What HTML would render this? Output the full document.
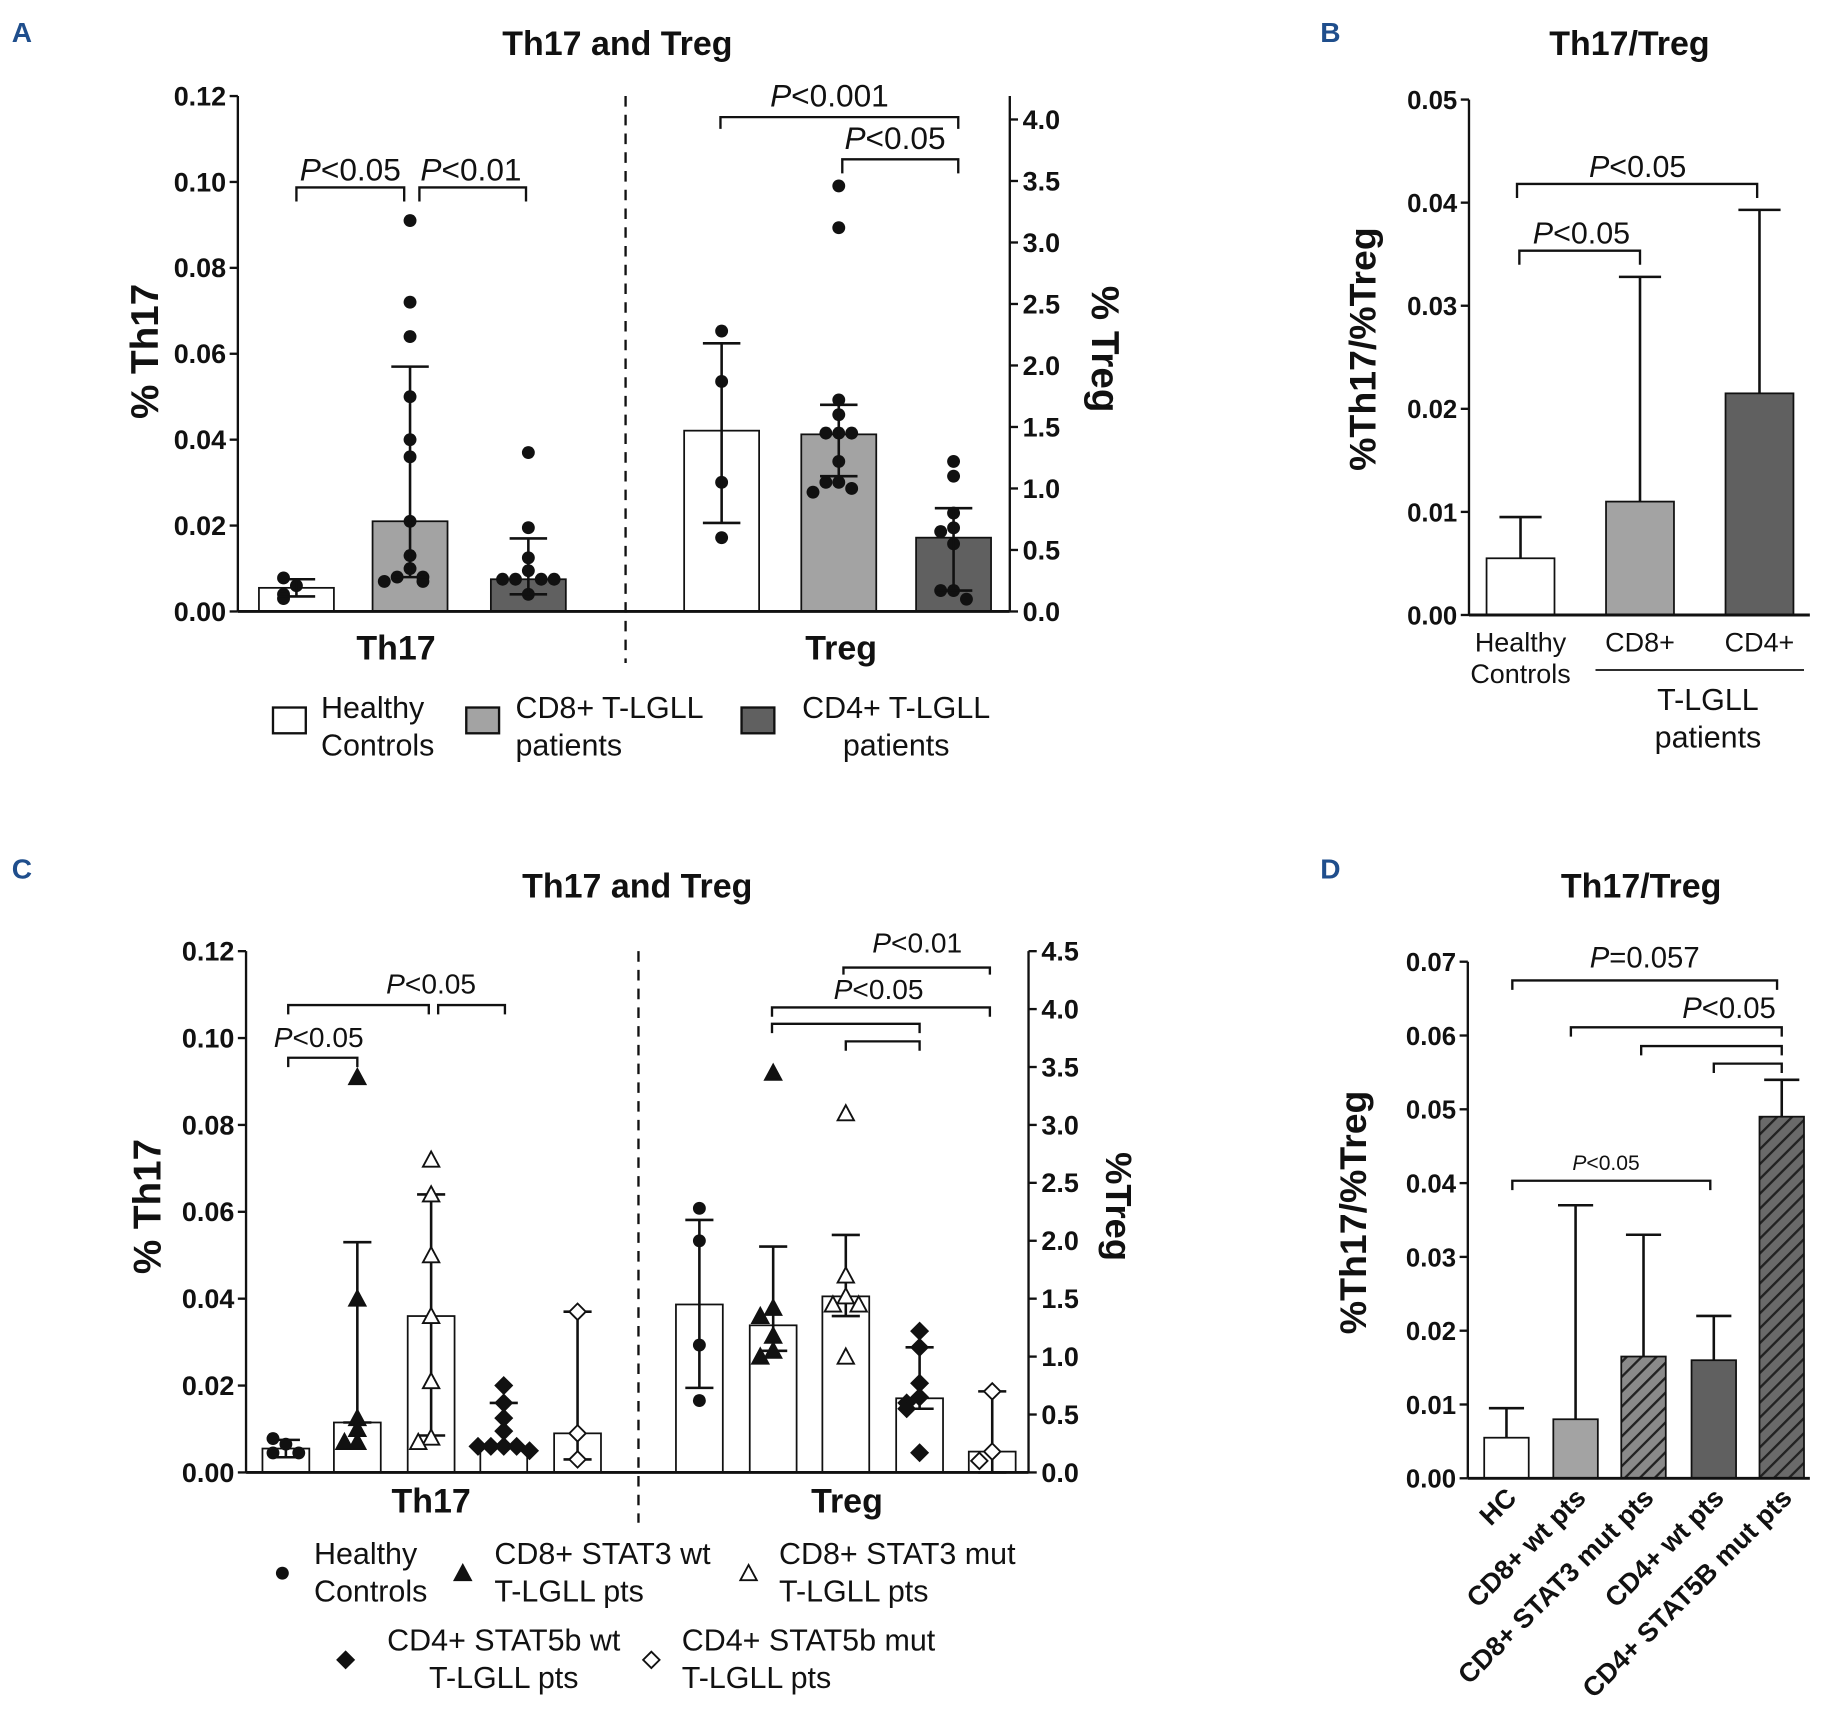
<!DOCTYPE html>
<html><head><meta charset="utf-8"><style>
html,body{margin:0;padding:0;background:#fff}
svg{display:block}
text{font-family:"Liberation Sans",Arial,sans-serif}
</style></head><body>
<svg id="fig" width="1831" height="1736" viewBox="0 0 1563 1482" xmlns="http://www.w3.org/2000/svg">
<defs>
<pattern id="hatchMid" patternUnits="userSpaceOnUse" width="9" height="9" patternTransform="rotate(45)"><rect width="9" height="9" fill="#8a8a8a"/><line x1="0" y1="0" x2="0" y2="9" stroke="#222" stroke-width="4"/></pattern>
<pattern id="hatchDark" patternUnits="userSpaceOnUse" width="9" height="9" patternTransform="rotate(45)"><rect width="9" height="9" fill="#6a6a6a"/><line x1="0" y1="0" x2="0" y2="9" stroke="#222" stroke-width="4"/></pattern>
</defs>
<g id="root"></g>
</svg>
<script>
// ---------- Panel A data ----------
const aGroups = ["Healthy Controls","CD8+ T-LGLL patients","CD4+ T-LGLL patients"];
const aTh17Means = [0.0055, 0.021, 0.0075];
const aTh17Lo = [0.0035, 0.008, 0.004];
const aTh17Hi = [0.0075, 0.057, 0.017];
const aTh17Pts0 = [0.006, 0.0078, 0.004, 0.003];
const aTh17Pts1 = [0.091, 0.072, 0.064, 0.050, 0.040, 0.036, 0.021, 0.013, 0.010, 0.008, 0.008, 0.007, 0.007];
const aTh17Pts2 = [0.037, 0.0195, 0.0125, 0.0095, 0.0075, 0.0075, 0.0075, 0.0075, 0.004];
const aTregMeans = [1.47, 1.44, 0.60];
const aTregLo = [0.72, 1.10, 0.17];
const aTregHi = [2.18, 1.68, 0.84];
const aTregPts0 = [2.28, 1.87, 1.05, 0.60];
const aTregPts1 = [3.46, 3.12, 1.72, 1.60, 1.45, 1.45, 1.45, 1.22, 1.05, 1.05, 1.00, 0.97];
const aTregPts2 = [1.22, 1.10, 0.80, 0.68, 0.65, 0.55, 0.17, 0.17, 0.10];
const aLeftTicks = ["0.00","0.02","0.04","0.06","0.08","0.10","0.12"];
const aRightTicks = ["0.0","0.5","1.0","1.5","2.0","2.5","3.0","3.5","4.0"];
// ---------- Panel B data ----------
const bCats = ["Healthy Controls","CD8+","CD4+"];
const bMeans = [0.0055, 0.011, 0.0215];
const bHi = [0.0095, 0.0328, 0.0393];
const bTicks = ["0.00","0.01","0.02","0.03","0.04","0.05"];
// ---------- Panel C data ----------
const cGroups = ["Healthy Controls","CD8+ STAT3 wt","CD8+ STAT3 mut","CD4+ STAT5b wt","CD4+ STAT5b mut"];
const cTh17Means = [0.0055, 0.0115, 0.036, 0.006, 0.009];
const cTh17Lo = [0.0035, 0.0115, 0.0085, 0.006, 0.003];
const cTh17Hi = [0.0075, 0.053, 0.064, 0.016, 0.037];
const cTh17P0 = [0.0065, 0.0078, 0.0045, 0.0045];
const cTh17P1 = [0.091, 0.040, 0.0125, 0.010, 0.007, 0.007];
const cTh17P2 = [0.072, 0.064, 0.050, 0.036, 0.021, 0.008, 0.007];
const cTh17P3 = [0.020, 0.016, 0.0125, 0.0095, 0.006, 0.006, 0.006, 0.006, 0.005];
const cTh17P4 = [0.037, 0.009, 0.003];
const cTregMeans = [1.45, 1.27, 1.52, 0.64, 0.18];
const cTregLo = [0.73, 1.05, 1.35, 0.55, 0.0];
const cTregHi = [2.18, 1.95, 2.05, 1.08, 0.70];
const cTregP0 = [2.28, 2.0, 1.1, 0.62];
const cTregP1 = [3.45, 1.42, 1.35, 1.18, 1.05, 1.0];
const cTregP2 = [3.10, 1.70, 1.52, 1.45, 1.45, 1.0];
const cTregP3 = [1.22, 1.08, 0.77, 0.65, 0.60, 0.55, 0.17];
const cTregP4 = [0.70, 0.18, 0.10];
const cLeftTicks = ["0.00","0.02","0.04","0.06","0.08","0.10","0.12"];
const cRightTicks = ["0.0","0.5","1.0","1.5","2.0","2.5","3.0","3.5","4.0","4.5"];
// ---------- Panel D data ----------
const dCats = ["HC","CD8+ wt pts","CD8+ STAT3 mut pts","CD4+ wt pts","CD4+ STAT5B mut pts"];
const dMeans = [0.0055, 0.008, 0.0165, 0.016, 0.049];
const dHi = [0.0095, 0.037, 0.033, 0.022, 0.054];
const dTicks = ["0.00","0.01","0.02","0.03","0.04","0.05","0.06","0.07"];

const NS="http://www.w3.org/2000/svg";
const root=document.getElementById('root');
function el(tag,attrs,parent,txt){const e=document.createElementNS(NS,tag);for(const k in attrs)e.setAttribute(k,attrs[k]);if(txt!==undefined)e.textContent=txt;(parent||root).appendChild(e);return e;}
function lin(d0,d1,r0,r1){return v=>r0+(v-d0)/(d1-d0)*(r1-r0);}
function line(x1,y1,x2,y2,w,p,dash){const l=el('line',{x1,y1,x2,y2,stroke:'#111','stroke-width':w||2},p);if(dash)l.setAttribute('stroke-dasharray',dash);return l;}
function txt(x,y,s,size,opts,p){const t=el('text',Object.assign({x,y,'font-size':size,fill:'#111'},opts||{}),p,s);return t;}
function pText(x,y,rest,size,p){const t=el('text',{x,y,'font-size':size,'text-anchor':'middle',fill:'#111'},p);el('tspan',{'font-style':'italic'},t,'P');el('tspan',{},t,rest);return t;}
function bracket(x1,x2,y,drop,p){const pa=el('path',{d:`M${x1},${y+drop}V${y}H${x2}V${y+drop}`,fill:'none',stroke:'#111','stroke-width':2},p);}
function yAxis(x,y0,y1,ticks,scale,vals,left,p,fs){line(x,y0,x,y1,2,p);ticks.forEach((t,i)=>{const y=scale(vals[i]);line(left?x-7:x,y,left?x:x+7,y,2,p);const tt=txt(left?x-10:x+11,y+8,t,fs||23,{'font-weight':'bold','text-anchor':left?'end':'start'},p);});}
function marker(type,x,y,p){let m;
 if(type==='dot')m=el('circle',{cx:x,cy:y,r:5.5,fill:'#111'},p);
 else if(type==='tri'||type==='otri')m=el('path',{d:`M${x},${y-7}L${x+7},${y+6}L${x-7},${y+6}Z`,fill:type==='tri'?'#111':'#fff',stroke:'#111','stroke-width':1.6},p);
 else m=el('path',{d:`M${x},${y-7}L${x+7},${y}L${x},${y+7}L${x-7},${y}Z`,fill:type==='dia'?'#111':'#fff',stroke:'#111','stroke-width':1.6},p);
 }
function points(vals,cx,scale,type,spread,p){
 const used=[];vals.forEach(v=>{const y=scale(v);let k=used.filter(u=>Math.abs(u-y)<9).length;used.push(y);const offs=[0,-spread,spread,-2*spread,2*spread,-3*spread,3*spread];marker(type,cx+offs[k%offs.length],y,p);});}
function bar(cx,w,v,scale,fill,p,name){const y0=scale(0),y=scale(v);const r=el('rect',{x:cx-w/2,y:Math.min(y,y0),width:w,height:Math.abs(y0-y),fill,stroke:'#111','stroke-width':1.5},p);return r;}
function err(cx,lo,hi,scale,cap,p){line(cx,scale(lo),cx,scale(hi),2.2,p);line(cx-cap,scale(hi),cx+cap,scale(hi),2.2,p);if(lo!==null)line(cx-cap,scale(lo),cx+cap,scale(lo),2.2,p);}

// ---------- Panel letters ----------
[["A",10,36],["B",1127,36],["C",10,750],["D",1127,750]].forEach(([s,x,y])=>{const t=txt(x,y,s,24,{'font-weight':'bold'});t.setAttribute('fill','#1f4e8c');});

// ---------- Panel A ----------
(function(){
 const g=el('g',{});
 const yL=lin(0,0.12,522,82), yR=lin(0,4.0,522,102);
 const fills=['#fff','#a3a3a3','#606060'];
 const th17X=[253,350,451], tregX=[616,716,814], W=64;
 const tt=txt(527,47,'Th17 and Treg',29,{'font-weight':'bold','text-anchor':'middle'},g);
 aTh17Means.forEach((v,i)=>bar(th17X[i],W,v,yL,fills[i],g,'bar-th17-'+i));
 aTregMeans.forEach((v,i)=>bar(tregX[i],W,v,yR,fills[i],g,'bar-treg-'+i));
 line(203,522,862,522,2.5,g);
 yAxis(203,522,82,aLeftTicks,yL,[0,0.02,0.04,0.06,0.08,0.10,0.12],true,g);
 yAxis(862,522,82,aRightTicks,yR,[0,0.5,1,1.5,2,2.5,3,3.5,4],false,g);
 line(534,82,534,566,2,g,'9,7');
 [aTh17Pts0,aTh17Pts1,aTh17Pts2].forEach((a,i)=>points(a,th17X[i],yL,'dot',11,g));
 [aTregPts0,aTregPts1,aTregPts2].forEach((a,i)=>points(a,tregX[i],yR,'dot',11,g));
 aTh17Means.forEach((v,i)=>err(th17X[i],aTh17Lo[i],aTh17Hi[i],yL,16,g));
 aTregMeans.forEach((v,i)=>err(tregX[i],aTregLo[i],aTregHi[i],yR,16,g));
 bracket(253,345,160,12,g);pText(299,154,'<0.05',27,g);
 bracket(358,449,160,12,g);pText(402,154,'<0.01',27,g);
 bracket(615,818,100,10,g);pText(708,91,'<0.001',27,g);
 bracket(719,818,136,12,g);pText(764,127,'<0.05',27,g);
 const yt=txt(0,0,'% Th17',33,{'font-weight':'bold','text-anchor':'middle',transform:'translate(135,300) rotate(-90)'},g);
 const yr=txt(0,0,'% Treg',33,{'font-weight':'bold','text-anchor':'middle',transform:'translate(932,298) rotate(90)'},g);
 txt(338,563,'Th17',29,{'font-weight':'bold','text-anchor':'middle'},g);
 txt(718,563,'Treg',29,{'font-weight':'bold','text-anchor':'middle'},g);
 const leg=[[233,fills[0],['Healthy','Controls'],274,'start'],[398,fills[1],['CD8+ T-LGLL','patients'],440,'start'],[633,fills[2],['CD4+ T-LGLL','patients'],765,'middle']];
 leg.forEach(([x,f,l,tx,an],i)=>{const lg=el('g',{},g);
  el('rect',{x,y:604,width:28,height:22,fill:f,stroke:'#111','stroke-width':2},lg);
  txt(tx,613,l[0],26,{'text-anchor':an},lg);txt(tx,645,l[1],26,{'text-anchor':an},lg);});
})();

// ---------- Panel B ----------
(function(){
 const g=el('g',{});
 const y=lin(0,0.05,525,85);const X=[1298,1400,1502],W=58;const fills=['#fff','#a3a3a3','#606060'];
 txt(1391,47,'Th17/Treg',29,{'font-weight':'bold','text-anchor':'middle'},g);
 bMeans.forEach((v,i)=>{err(X[i],null,bHi[i],y,18,g);bar(X[i],W,v,y,fills[i],g,'bar-'+i);});
 line(1254,525,1545,525,2.5,g);
 yAxis(1254,525,85,bTicks,y,[0,0.01,0.02,0.03,0.04,0.05],true,g,22);
 bracket(1295,1500,157,12,g);pText(1398,151,'<0.05',26,g);
 bracket(1297,1400,214,12,g);pText(1350,208,'<0.05',26,g);
 txt(0,0,'%Th17/%Treg',32,{'font-weight':'bold','text-anchor':'middle',transform:'translate(1174,298) rotate(-90)'},g);
 txt(1298,556,'Healthy',23,{'text-anchor':'middle'},g);txt(1298,583,'Controls',23,{'text-anchor':'middle'},g);
 txt(1400,556,'CD8+',23,{'text-anchor':'middle'},g);txt(1502,556,'CD4+',23,{'text-anchor':'middle'},g);
 line(1362,572,1540,572,1.5,g);
 txt(1458,606,'T-LGLL',26,{'text-anchor':'middle'},g);txt(1458,638,'patients',26,{'text-anchor':'middle'},g);
})();

// ---------- Panel C ----------
(function(){
 const g=el('g',{});
 const yL=lin(0,0.12,1257,812), yR=lin(0,4.5,1257,812);
 const th17X=[244,305,368,430,493], tregX=[597,660,722,785,847], W=40;
 const types=['dot','tri','otri','dia','odia'];
 txt(544,766,'Th17 and Treg',29,{'font-weight':'bold','text-anchor':'middle'},g);
 cTh17Means.forEach((v,i)=>bar(th17X[i],W,v,yL,'#fff',g,'bar-th17-'+i));
 cTregMeans.forEach((v,i)=>bar(tregX[i],W,v,yR,'#fff',g,'bar-treg-'+i));
 line(210,1257,878,1257,2.5,g);
 yAxis(210,1257,812,cLeftTicks,yL,[0,0.02,0.04,0.06,0.08,0.10,0.12],true,g);
 yAxis(878,1257,812,cRightTicks,yR,[0,0.5,1,1.5,2,2.5,3,3.5,4,4.5],false,g);
 line(545,812,545,1300,2,g,'9,7');
 cTh17Means.forEach((v,i)=>err(th17X[i],cTh17Lo[i],cTh17Hi[i],yL,12,g));
 cTregMeans.forEach((v,i)=>err(tregX[i],cTregLo[i],cTregHi[i],yR,12,g));
 [cTh17P0,cTh17P1,cTh17P2,cTh17P3,cTh17P4].forEach((a,i)=>points(a,th17X[i],yL,types[i],11,g));
 [cTregP0,cTregP1,cTregP2,cTregP3,cTregP4].forEach((a,i)=>points(a,tregX[i],yR,types[i],11,g));
 bracket(246,305,903,8,g);pText(272,894,'<0.05',24,g);
 bracket(246,366,858,8,g);bracket(374,431,858,8,g);pText(368,848,'<0.05',24,g);
 bracket(659,785,874,8,g);bracket(722,785,889,8,g);
 bracket(659,845,860,8,g);pText(750,853,'<0.05',24,g);
 bracket(720,845,826,6,g);pText(783,813,'<0.01',24,g);
 txt(0,0,'% Th17',33,{'font-weight':'bold','text-anchor':'middle',transform:'translate(137,1030) rotate(-90)'},g);
 txt(0,0,'%Treg',31,{'font-weight':'bold','text-anchor':'middle',transform:'translate(944,1030) rotate(90)'},g);
 txt(368,1291,'Th17',29,{'font-weight':'bold','text-anchor':'middle'},g);
 txt(723,1291,'Treg',29,{'font-weight':'bold','text-anchor':'middle'},g);
 const leg=[[241,1343,'dot',['Healthy','Controls'],268,'start'],[395,1343,'tri',['CD8+ STAT3 wt','T-LGLL pts'],422,'start'],[639,1343,'otri',['CD8+ STAT3 mut','T-LGLL pts'],665,'start'],[295,1417,'dia',['CD4+ STAT5b wt','T-LGLL pts'],430,'middle'],[556,1417,'odia',['CD4+ STAT5b mut','T-LGLL pts'],582,'start']];
 leg.forEach(([mx,my,t,l,tx,an],i)=>{const lg=el('g',{},g);
  marker(t,mx,my,lg);txt(tx,my-8,l[0],26,{'text-anchor':an},lg);txt(tx,my+24,l[1],26,{'text-anchor':an},lg);});
})();

// ---------- Panel D ----------
(function(){
 const g=el('g',{});
 const y=lin(0,0.07,1262,821);const X=[1286,1345,1403,1463,1521],W=38;
 const fills=['#fff','#a3a3a3','url(#hatchMid)','#606060','url(#hatchDark)'];
 txt(1401,766,'Th17/Treg',29,{'font-weight':'bold','text-anchor':'middle'},g);
 dMeans.forEach((v,i)=>{err(X[i],null,dHi[i],y,15,g);bar(X[i],W,v,y,fills[i],g,'bar-'+i);});
 line(1253,1262,1545,1262,2.5,g);
 yAxis(1253,1262,821,dTicks,y,[0,0.01,0.02,0.03,0.04,0.05,0.06,0.07],true,g,22);
 bracket(1291,1517,837,8,g);pText(1404,826,'=0.057',25,g);
 bracket(1341,1521,877,8,g);pText(1476,869,'<0.05',25,g);
 bracket(1401,1521,893,8,g);bracket(1463,1521,908,8,g);
 bracket(1291,1460,1008,8,g);pText(1371,999,'<0.05',18,g);
 txt(0,0,'%Th17/%Treg',32,{'font-weight':'bold','text-anchor':'middle',transform:'translate(1166,1035) rotate(-90)'},g);
 dCats.forEach((c,i)=>{const t=txt(0,0,c,23,{'font-weight':'bold','text-anchor':'end',transform:`translate(${X[i]+10},${1280}) rotate(-45)`},g);});
})();
</script>
</body></html>
